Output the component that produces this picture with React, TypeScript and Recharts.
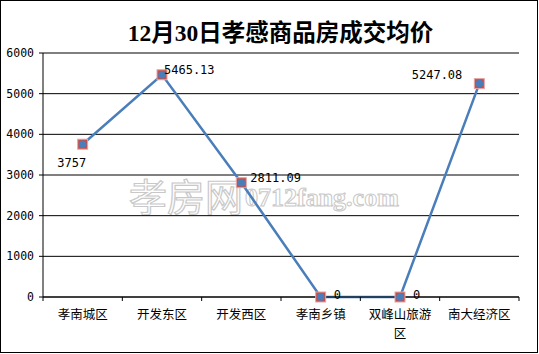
import React from "react";
import {
  LineChart,
  Line,
  XAxis,
  YAxis,
  CartesianGrid,
  LabelList,
} from "recharts";

const districts = ["孝南城区", "开发东区", "开发西区", "孝南乡镇", "双峰山旅游区", "南大经济区"];
const avgPrice = [3757, 5465.13, 2811.09, 0, 0, 5247.08];
const priceLabels = ["3757", "5465.13", "2811.09", "0", "0", "5247.08"];
const yTicks = [0, 1000, 2000, 3000, 4000, 5000, 6000];

// where each data label sits relative to its point
const labelOffsets = [
  { dx: -11, dy: 19, anchor: "middle" },
  { dx: 2, dy: -5, anchor: "start" },
  { dx: 9, dy: -5, anchor: "start" },
  { dx: 13, dy: -2, anchor: "start" },
  { dx: 13, dy: -2, anchor: "start" },
  { dx: -17, dy: -9, anchor: "end" },
];

const data = districts.map((name, i) => ({
  name,
  price: avgPrice[i],
  label: priceLabels[i],
}));

const monoFont = "'DejaVu Sans Mono', 'Liberation Mono', monospace";
const cjkFont = "'Noto Sans CJK SC', sans-serif";

const Marker = (props: any) => {
  const { cx, cy } = props;
  if (cx == null || cy == null) return null;
  return (
    <g>
      <rect x={cx - 5} y={cy - 5} width={10} height={10} fill="#C0504D" stroke="#E6A5A4" strokeWidth={1} />
      <circle cx={cx} cy={cy} r={3.8} fill="#4A7EBB" />
    </g>
  );
};

const CategoryTick = (props: any) => {
  const { x, y, payload, index } = props;
  const half = payload?.offset || 39.67;
  const text: string = payload.value;
  const lines = text.length > 5 ? [text.slice(0, 5), text.slice(5)] : [text];
  return (
    <g>
      <line x1={x - half} y1={y - 8} x2={x - half} y2={y - 4} stroke="#000" />
      {index === districts.length - 1 && (
        <line x1={x + half} y1={y - 8} x2={x + half} y2={y - 4} stroke="#000" />
      )}
      {lines.map((ln, i) => (
        <text
          key={i}
          x={x}
          y={y + 8 + i * 19}
          textAnchor="middle"
          dominantBaseline="central"
          fontSize={12.5}
          fontFamily={cjkFont}
          fill="#000"
        >
          {ln}
        </text>
      ))}
    </g>
  );
};

const PriceLabel = (props: any) => {
  const { x, y, index, value } = props;
  const o = labelOffsets[index] ?? { dx: 4, dy: -4, anchor: "start" };
  return (
    <text
      x={x + o.dx}
      y={y + o.dy}
      textAnchor={o.anchor}
      dominantBaseline="central"
      fontSize={12}
      fontFamily={monoFont}
      fill="#000"
    >
      {value}
    </text>
  );
};

export default function App() {
  return (
    <div
      style={{
        position: "fixed",
        left: 0,
        top: 0,
        width: 538,
        height: 353,
        boxSizing: "border-box",
        border: "1px solid #000",
        background: "#fff",
      }}
    >
      <div
        style={{
          position: "absolute",
          left: 10,
          top: 17,
          width: 539,
          textAlign: "center",
          fontFamily: "'Liberation Serif', 'Noto Sans CJK SC', serif",
          fontWeight: "bold",
          fontSize: 23.5,
          lineHeight: "30px",
          color: "#000",
        }}
      >
        12月30日孝感商品房成交均价
      </div>
      <svg width={539} height={354} style={{ position: "absolute", left: -1, top: -1 }}>
        <text x={129} y={211} fontSize={38} fontFamily={cjkFont} fill="#fff" stroke="#c8c8c8" strokeWidth={1.2}>
          孝房网
        </text>
        <text x={245} y={206} fontSize={26} fontFamily="'Liberation Serif', serif" fontWeight="bold" fill="#fff" stroke="#c8c8c8" strokeWidth={1}>
          0712fang.com
        </text>
      </svg>
      <div style={{ position: "absolute", left: -1, top: -1 }}>
        <LineChart
          width={539}
          height={354}
          data={data}
          margin={{ top: 53, right: 20, left: 0, bottom: 0 }}
        >
          <CartesianGrid vertical={false} stroke="#000" strokeWidth={1} />
          <XAxis
            dataKey="name"
            scale="band"
            height={57}
            axisLine={{ stroke: "#000" }}
            tickLine={false}
            tick={<CategoryTick />}
            interval={0}
          />
          <YAxis
            width={43}
            domain={[0, 6000]}
            ticks={yTicks}
            interval={0}
            axisLine={{ stroke: "#000" }}
            tickLine={{ stroke: "#000" }}
            tickSize={4}
            tickMargin={5}
            tick={{ fontSize: 11.5, fontFamily: monoFont, fill: "#000" }}
          />
          <Line
            type="linear"
            dataKey="price"
            stroke="#4A7EBB"
            strokeWidth={2.5}
            dot={<Marker />}
            activeDot={false}
            isAnimationActive={false}
          >
            <LabelList dataKey="label" content={<PriceLabel />} />
          </Line>
        </LineChart>
      </div>
    </div>
  );
}
